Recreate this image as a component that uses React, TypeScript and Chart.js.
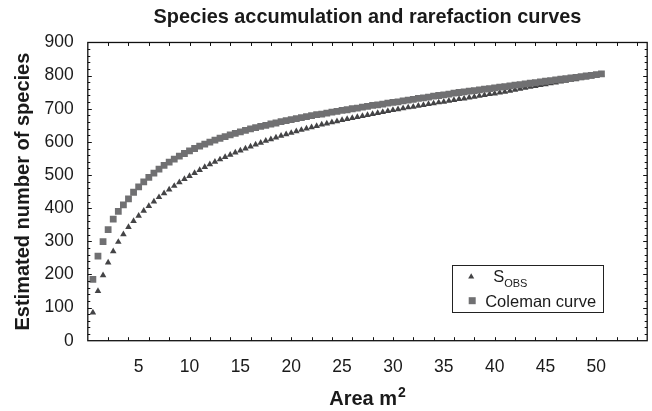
import React, { useEffect, useRef } from 'react';
import { Chart, registerables } from 'chart.js';

Chart.register(...registerables);

// ---- data ----
const areaM2 = [
  0.5, 1, 1.5, 2, 2.5, 3, 3.5, 4, 4.5, 5,
  5.5, 6, 6.5, 7, 7.5, 8, 8.5, 9, 9.5, 10,
  10.5, 11, 11.5, 12, 12.5, 13, 13.5, 14, 14.5, 15,
  15.5, 16, 16.5, 17, 17.5, 18, 18.5, 19, 19.5, 20,
  20.5, 21, 21.5, 22, 22.5, 23, 23.5, 24, 24.5, 25,
  25.5, 26, 26.5, 27, 27.5, 28, 28.5, 29, 29.5, 30,
  30.5, 31, 31.5, 32, 32.5, 33, 33.5, 34, 34.5, 35,
  35.5, 36, 36.5, 37, 37.5, 38, 38.5, 39, 39.5, 40,
  40.5, 41, 41.5, 42, 42.5, 43, 43.5, 44, 44.5, 45,
  45.5, 46, 46.5, 47, 47.5, 48, 48.5, 49, 49.5, 50,
  50.5,
];

const sObs = [
  85, 150, 197, 236, 270, 298, 321, 343, 361, 377,
  392, 406, 420, 433, 445, 456, 467, 478, 488, 497,
  506, 515, 524, 532, 540, 547, 554, 561, 568, 574,
  580, 586, 592, 597, 603, 608, 613, 618, 623, 627,
  632, 636, 640, 644, 648, 652, 655, 659, 662, 666,
  669, 672, 675, 678, 681, 684, 687, 690, 693, 696,
  698, 701, 704, 706, 709, 711, 714, 716, 719, 721,
  724, 726, 729, 731, 734, 736, 739, 741, 744, 746,
  749, 751, 754, 757, 760, 763, 766, 768, 771, 774,
  777, 779, 782, 784, 787, 789, 792, 794, 797, 800,
  803,
];

const coleman = [
  185, 255, 299, 335, 367, 390, 410, 428, 448, 464,
  479, 493, 506, 518, 529, 539, 548, 557, 565, 573,
  580, 587, 593, 599, 605, 611, 616, 621, 626, 630,
  635, 639, 643, 647, 650, 654, 657, 661, 664, 667,
  670, 673, 676, 679, 682, 684, 687, 690, 692, 695,
  697, 700, 702, 705, 707, 710, 712, 714, 717, 719,
  721, 724, 726, 728, 731, 733, 735, 738, 740, 742,
  744, 747, 749, 751, 753, 755, 757, 759, 761, 763,
  765, 767, 769, 771, 773, 775, 777, 779, 781, 783,
  785, 787, 789, 791, 793, 795, 797, 799, 801, 803,
  805,
];

const xTickLabels = [5, 10, 15, 20, 25, 30, 35, 40, 45, 50];
const yTickLabels = [0, 100, 200, 300, 400, 500, 600, 700, 800, 900];

const TITLE = 'Species accumulation and rarefaction curves';
const X_TITLE = 'Area m';
const X_TITLE_SUP = '2';
const Y_TITLE = 'Estimated number of species';
const LEGEND_SOBS = 'S';
const LEGEND_SOBS_SUB = 'OBS';
const LEGEND_COLEMAN = 'Coleman curve';

const FONT = '"Liberation Sans", Arial, Helvetica, sans-serif';
const SQUARE_COLOR = '#707072';
const TRIANGLE_COLOR = '#444446';
const TEXT_COLOR = '#1a1a1a';

const X_MIN = 0;
const X_MAX = 55;
const Y_MIN = 0;
const Y_MAX = 900;
const X_TICK_STEP = 2;
const Y_MINOR_STEP = 20;
const Y_MAJOR_STEP = 100;

const framePlugin = {
  id: 'frameAndLegend',
  afterDatasetsDraw(chart: any) {
    const { ctx, chartArea: a, scales } = chart;
    const xs = scales.x;
    const ys = scales.y;
    ctx.save();
    ctx.strokeStyle = '#111';
    ctx.lineWidth = 1;
    ctx.beginPath();
    for (let v = X_MIN + X_TICK_STEP; v < X_MAX; v += X_TICK_STEP) {
      const px = Math.round(xs.getPixelForValue(v)) + 0.5;
      ctx.moveTo(px, a.bottom);
      ctx.lineTo(px, a.bottom - 3.5);
      ctx.moveTo(px, a.top);
      ctx.lineTo(px, a.top + 3.5);
    }
    for (let v = Y_MIN + Y_MINOR_STEP; v < Y_MAX; v += Y_MINOR_STEP) {
      const py = Math.round(ys.getPixelForValue(v)) + 0.5;
      const len = v % Y_MAJOR_STEP === 0 ? 4 : 2.5;
      ctx.moveTo(a.left, py);
      ctx.lineTo(a.left + len, py);
      ctx.moveTo(a.right, py);
      ctx.lineTo(a.right - len, py);
    }
    ctx.stroke();
    ctx.lineWidth = 1.3;
    ctx.strokeRect(a.left, a.top, a.right - a.left, a.bottom - a.top);

    // x-axis title with superscript
    ctx.fillStyle = TEXT_COLOR;
    ctx.textBaseline = 'alphabetic';
    ctx.textAlign = 'left';
    ctx.font = `bold 20px ${FONT}`;
    const mainW = ctx.measureText(X_TITLE).width;
    ctx.font = `bold 14px ${FONT}`;
    const supW = ctx.measureText(X_TITLE_SUP).width;
    const cx = (a.left + a.right) / 2;
    const startX = cx - (mainW + supW + 1) / 2;
    const baseY = a.bottom + 64.5;
    ctx.font = `bold 20px ${FONT}`;
    ctx.fillText(X_TITLE, startX, baseY);
    ctx.font = `bold 14px ${FONT}`;
    ctx.fillText(X_TITLE_SUP, startX + mainW + 1, baseY - 8);

    // legend box
    const bx = a.right - 195;
    const by = a.bottom - 76;
    const bw = 151;
    const bh = 47;
    ctx.fillStyle = '#fff';
    ctx.fillRect(bx, by, bw, bh);
    ctx.lineWidth = 1;
    ctx.strokeStyle = '#222';
    ctx.strokeRect(Math.round(bx) + 0.5, Math.round(by) + 0.5, bw, bh);

    // triangle marker
    const tx = bx + 19;
    const ty = by + 12;
    const r = 3.5;
    ctx.fillStyle = TRIANGLE_COLOR;
    ctx.beginPath();
    ctx.moveTo(tx, ty - r);
    ctx.lineTo(tx + r * 0.866, ty + r * 0.5);
    ctx.lineTo(tx - r * 0.866, ty + r * 0.5);
    ctx.closePath();
    ctx.fill();

    // square marker
    ctx.fillStyle = SQUARE_COLOR;
    ctx.fillRect(bx + 16.5, by + 32.5, 7, 7);

    ctx.fillStyle = TEXT_COLOR;
    ctx.font = `16.5px ${FONT}`;
    ctx.fillText(LEGEND_SOBS, bx + 41, by + 17);
    const sw = ctx.measureText(LEGEND_SOBS).width;
    ctx.font = `11px ${FONT}`;
    ctx.fillText(LEGEND_SOBS_SUB, bx + 41 + sw, by + 22);
    ctx.font = `16.5px ${FONT}`;
    ctx.fillText(LEGEND_COLEMAN, bx + 33, by + 42);
    ctx.restore();
  },
};

export default function App() {
  const ref = useRef<HTMLCanvasElement>(null);

  useEffect(() => {
    if (!ref.current) return;
    const chart = new Chart(ref.current, {
      type: 'scatter',
      data: {
        datasets: [
          {
            label: LEGEND_COLEMAN,
            data: areaM2.map((x, i) => ({ x, y: coleman[i] })),
            pointStyle: 'rect',
            pointRadius: 4.8,
            pointBorderWidth: 0,
            backgroundColor: SQUARE_COLOR,
            borderColor: SQUARE_COLOR,
            showLine: false,
          },
          {
            label: LEGEND_SOBS + LEGEND_SOBS_SUB,
            data: areaM2.map((x, i) => ({ x, y: sObs[i] })),
            pointStyle: 'triangle',
            pointRadius: 3.8,
            pointBorderWidth: 0,
            backgroundColor: TRIANGLE_COLOR,
            borderColor: TRIANGLE_COLOR,
            showLine: false,
          },
        ],
      },
      options: {
        animation: false,
        responsive: true,
        maintainAspectRatio: false,
        layout: { padding: { left: 0, right: 2, top: 0, bottom: 0 } },
        plugins: {
          legend: { display: false },
          tooltip: { enabled: false },
          title: {
            display: true,
            text: TITLE,
            fullSize: false,
            color: TEXT_COLOR,
            font: { family: FONT, size: 19.9, weight: 'bold' },
            padding: { top: 5.3, bottom: 13.3 },
          },
        },
        scales: {
          x: {
            type: 'linear',
            min: X_MIN,
            max: X_MAX,
            border: { display: false },
            grid: { display: false },
            afterBuildTicks: (scale: any) => {
              scale.ticks = xTickLabels.map((v) => ({ value: v }));
            },
            ticks: {
              autoSkip: false,
              maxRotation: 0,
              padding: 8,
              color: TEXT_COLOR,
              font: { family: FONT, size: 17.5 },
            },
            title: { display: false },
            afterFit: (scale: any) => {
              scale.height = 70.3;
            },
          },
          y: {
            type: 'linear',
            min: Y_MIN,
            max: Y_MAX,
            border: { display: false },
            grid: { display: false },
            afterBuildTicks: (scale: any) => {
              scale.ticks = yTickLabels.map((v) => ({ value: v }));
            },
            ticks: {
              autoSkip: false,
              padding: 6,
              color: TEXT_COLOR,
              font: { family: FONT, size: 17.5 },
            },
            title: {
              display: true,
              text: Y_TITLE,
              color: TEXT_COLOR,
              font: { family: FONT, size: 20, weight: 'bold' },
              padding: { top: 11, bottom: 0 },
            },
            afterFit: (scale: any) => {
              scale.width = 87.8;
            },
          },
        },
      },
      plugins: [framePlugin],
    });
    return () => chart.destroy();
  }, []);

  return (
    <div style={{ position: 'fixed', left: 0, top: 0, width: 652, height: 411, background: '#fff' }}>
      <canvas ref={ref} />
    </div>
  );
}
